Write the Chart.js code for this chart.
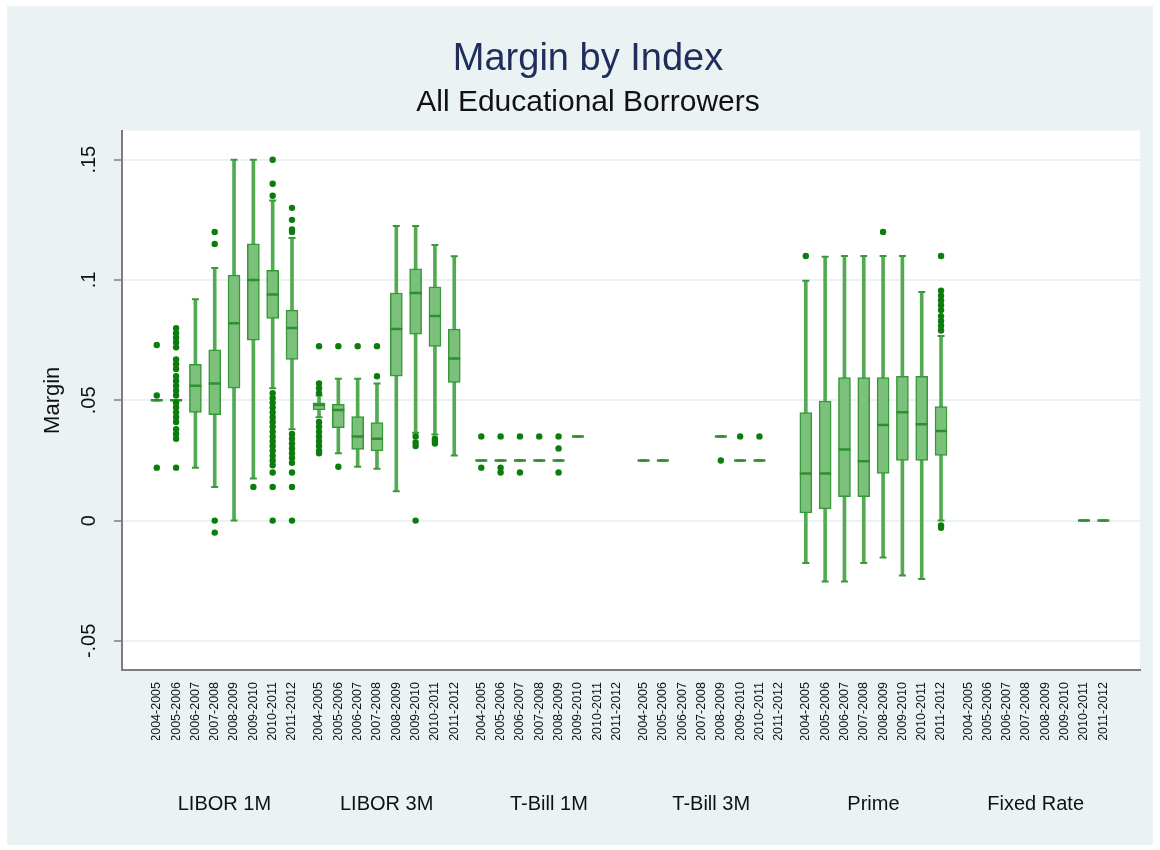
<!DOCTYPE html>
<html>
<head>
<meta charset="utf-8">
<title>Margin by Index</title>
<script src="https://cdn.jsdelivr.net/npm/chart.js@4.4.0/dist/chart.umd.min.js"></script>
<style>
    html, body { margin: 0; padding: 0; background: #ffffff; }
    #wrap { width: 1160px; height: 850px; }
</style>
</head>
<body>
<div id="wrap"><canvas id="margin-chart" width="1160" height="850"></canvas></div>
<script>
// *** DATA ***
var groups = ['LIBOR 1M', 'LIBOR 3M', 'T-Bill 1M', 'T-Bill 3M', 'Prime', 'Fixed Rate'];
var years = ['2004-2005', '2005-2006', '2006-2007', '2007-2008', '2008-2009', '2009-2010', '2010-2011', '2011-2012'];
var yTicks = [-0.05, 0, 0.05, 0.1, 0.15];

// one entry per group/year, in the order of groups then years (null = no loans)
var whiskerLow = [
    0.05, 0.05, 0.022, 0.014, 0.0, 0.0175, 0.055, 0.038,           // LIBOR 1M
    0.043, 0.028, 0.0224, 0.0215, 0.0122, 0.0365, 0.0358, 0.0271,  // LIBOR 3M
    0.025, 0.025, 0.025, 0.025, 0.025, 0.035, null, null,          // T-Bill 1M
    0.025, 0.025, null, null, 0.035, 0.025, 0.025, null,           // T-Bill 3M
    -0.0176, -0.0253, -0.0253, -0.0176, -0.0153, -0.0228, -0.0243, 0.0, // Prime
    null, null, null, null, null, null, 0.0, 0.0                   // Fixed Rate
];
var quartile1 = [
    0.05, 0.05, 0.045, 0.044, 0.055, 0.075, 0.084, 0.067,
    0.046, 0.0386, 0.0296, 0.029, 0.060, 0.0775, 0.0724, 0.0574,
    0.025, 0.025, 0.025, 0.025, 0.025, 0.035, null, null,
    0.025, 0.025, null, null, 0.035, 0.025, 0.025, null,
    0.0032, 0.0049, 0.0099, 0.0099, 0.0196, 0.025, 0.025, 0.0271,
    null, null, null, null, null, null, 0.0, 0.0
];
var medians = [
    0.05, 0.05, 0.056, 0.057, 0.082, 0.100, 0.094, 0.080,
    0.048, 0.046, 0.035, 0.034, 0.0796, 0.0946, 0.085, 0.0674,
    0.025, 0.025, 0.025, 0.025, 0.025, 0.035, null, null,
    0.025, 0.025, null, null, 0.035, 0.025, 0.025, null,
    0.0196, 0.0196, 0.0296, 0.0247, 0.0397, 0.045, 0.040, 0.0372,
    null, null, null, null, null, null, 0.0, 0.0
];
var quartile3 = [
    0.05, 0.05, 0.065, 0.071, 0.102, 0.115, 0.104, 0.0875,
    0.049, 0.0483, 0.0432, 0.0407, 0.0946, 0.1046, 0.0972, 0.0796,
    0.025, 0.025, 0.025, 0.025, 0.025, 0.035, null, null,
    0.025, 0.025, null, null, 0.035, 0.025, 0.025, null,
    0.0449, 0.0497, 0.0594, 0.0594, 0.0594, 0.060, 0.060, 0.0474,
    null, null, null, null, null, null, 0.0, 0.0
];
var whiskerHigh = [
    0.05, 0.05, 0.092, 0.105, 0.15, 0.15, 0.133, 0.1175,
    0.052, 0.059, 0.059, 0.057, 0.1224, 0.1224, 0.1146, 0.1099,
    0.025, 0.025, 0.025, 0.025, 0.025, 0.035, null, null,
    0.025, 0.025, null, null, 0.035, 0.025, 0.025, null,
    0.0997, 0.1097, 0.11, 0.11, 0.11, 0.11, 0.095, 0.0767,
    null, null, null, null, null, null, 0.0, 0.0
];
var outliers = [
    // LIBOR 1M
    [0.073, 0.052, 0.022],
    [0.080, 0.078, 0.076, 0.074, 0.072, 0.067, 0.065, 0.063, 0.060, 0.058, 0.056, 0.054, 0.052,
     0.049, 0.047, 0.045, 0.043, 0.041, 0.038, 0.036, 0.034, 0.022],
    [],
    [0.120, 0.115, 0.0, -0.005],
    [],
    [0.014],
    [0.15, 0.14, 0.135, 0.053, 0.051, 0.049, 0.047, 0.045, 0.043, 0.041, 0.039, 0.037, 0.035,
     0.033, 0.031, 0.029, 0.027, 0.025, 0.023, 0.020, 0.014, 0.0],
    [0.130, 0.125, 0.121, 0.120, 0.036, 0.034, 0.032, 0.030, 0.028, 0.026, 0.024, 0.020, 0.014, 0.0],
    // LIBOR 3M
    [0.0725, 0.057, 0.055, 0.053, 0.041, 0.039, 0.037, 0.035, 0.033, 0.031, 0.029, 0.028],
    [0.0725, 0.0224],
    [0.0725],
    [0.0725, 0.060],
    [],
    [0.035, 0.0325, 0.031, 0.0],
    [0.034, 0.033, 0.032],
    [],
    // T-Bill 1M
    [0.035, 0.022],
    [0.035, 0.022, 0.020],
    [0.035, 0.020],
    [0.035],
    [0.035, 0.030, 0.020],
    [], [], [],
    // T-Bill 3M
    [], [], [], [],
    [0.025],
    [0.035],
    [0.035],
    [],
    // Prime
    [0.11], [], [], [], [0.12], [], [],
    [0.11, 0.0956, 0.0935, 0.0915, 0.0895, 0.0875, 0.085, 0.083, 0.081, 0.079, -0.002, -0.003],
    // Fixed Rate
    [], [], [], [], [], [], [], []
];

// *** FUNCTIONS ***
var groupStride = years.length + 0.4; // small extra gap between index groups

function slotPosition(k) {
    return Math.floor(k / years.length) * groupStride + (k % years.length);
}

function rangeData(low, high) {
    var data = [];
    for (var k = 0; k < low.length; k++) {
        if (low[k] !== null && high[k] !== null) {
            data.push({ x: slotPosition(k), y: [low[k], high[k]] });
        }
    }
    return data;
}

function pointData(values) {
    var data = [];
    for (var k = 0; k < values.length; k++) {
        if (values[k] !== null) {
            data.push({ x: slotPosition(k), y: values[k] });
        }
    }
    return data;
}

function outlierData(list) {
    var data = [];
    for (var k = 0; k < list.length; k++) {
        for (var j = 0; j < list[k].length; j++) {
            data.push({ x: slotPosition(k), y: list[k][j] });
        }
    }
    return data;
}

function formatMargin(v) {
    if (v === 0) return '0';
    return String(parseFloat(v.toFixed(2))).replace('0.', '.');
}

var slotTicks = [];
for (var k = 0; k < groups.length * years.length; k++) {
    slotTicks.push(slotPosition(k));
}
var groupTicks = groups.map(function(g, i) {
    return i * groupStride + (years.length - 1) / 2;
});
var xMin = -1.8;
var xMax = slotTicks[slotTicks.length - 1] + 1.9;

var panelBackground = {
    id: 'panelBackground',
    beforeDraw: function(chart) {
        var ctx = chart.ctx;
        var area = chart.chartArea;
        ctx.save();
        ctx.fillStyle = '#ffffff';
        ctx.fillRect(0, 0, chart.width, chart.height);
        ctx.fillStyle = '#eaf2f3';
        ctx.fillRect(7, 6, chart.width - 14, chart.height - 11);
        ctx.fillStyle = '#ffffff';
        ctx.fillRect(area.left, area.top, area.right - area.left, area.bottom - area.top);
        ctx.restore();
    }
};

Chart.defaults.font.family = "'Liberation Sans', Arial, sans-serif";
Chart.defaults.color = '#111111';

new Chart(document.getElementById('margin-chart'), {
    type: 'bar',
    data: {
        datasets: [{
            type: 'scatter', // outside values
            data: outlierData(outliers),
            pointRadius: 3.2,
            pointBackgroundColor: '#0a7d0a',
            pointBorderWidth: 0,
            order: 0
        }, {
            type: 'scatter', // medians
            data: pointData(medians),
            pointStyle: 'line',
            pointRadius: 6,
            pointBorderColor: '#2e8f2e',
            pointBorderWidth: 2.5,
            order: 1
        }, {
            label: 'box',
            data: rangeData(quartile1, quartile3),
            backgroundColor: '#7bc17b',
            borderColor: '#369836',
            borderWidth: 1.5,
            borderSkipped: false,
            barThickness: 12,
            grouped: false,
            order: 2
        }, {
            type: 'scatter', // whisker caps
            data: pointData(whiskerLow).concat(pointData(whiskerHigh)),
            pointStyle: 'line',
            pointRadius: 3.5,
            pointBorderColor: '#3a9a3a',
            pointBorderWidth: 2,
            order: 3
        }, {
            label: 'whisker',
            data: rangeData(whiskerLow, whiskerHigh),
            backgroundColor: '#52ab52',
            borderWidth: 0,
            barThickness: 3,
            grouped: false,
            order: 4
        }]
    },
    options: {
        responsive: false,
        animation: false,
        layout: {
            padding: { left: 36, right: 20, top: 0, bottom: 38 }
        },
        plugins: {
            legend: { display: false },
            tooltip: { enabled: false },
            title: {
                display: true,
                text: 'Margin by Index',
                color: '#1f2d5c',
                font: { size: 38, weight: 'normal' },
                padding: { top: 37, bottom: 0 }
            },
            subtitle: {
                display: true,
                text: 'All Educational Borrowers',
                color: '#111111',
                font: { size: 30 },
                padding: { top: 2, bottom: 10 }
            }
        },
        scales: {
            x: {
                type: 'linear',
                position: 'bottom',
                min: xMin,
                max: xMax,
                offset: false,
                weight: 0,
                afterBuildTicks: function(scale) {
                    scale.ticks = slotTicks.map(function(v) { return { value: v }; });
                },
                afterFit: function(scale) {
                    scale.height = 70;
                },
                grid: { display: false, drawTicks: false },
                border: { display: true, color: '#7d7d7d', width: 2 },
                ticks: {
                    autoSkip: false,
                    minRotation: 90,
                    maxRotation: 90,
                    padding: 12,
                    font: { size: 12.5 },
                    callback: function(value, index) {
                        return years[index % years.length];
                    }
                }
            },
            xg: {
                type: 'linear',
                position: 'bottom',
                min: xMin,
                max: xMax,
                offset: false,
                weight: 1,
                afterBuildTicks: function(scale) {
                    scale.ticks = groupTicks.map(function(v) { return { value: v }; });
                },
                afterFit: function(scale) {
                    scale.height = 72;
                },
                grid: { display: false, drawTicks: false },
                border: { display: false },
                ticks: {
                    autoSkip: false,
                    maxRotation: 0,
                    padding: 52,
                    font: { size: 20 },
                    callback: function(value, index) {
                        return groups[index];
                    }
                }
            },
            y: {
                min: -0.0621,
                max: 0.1621,
                afterBuildTicks: function(scale) {
                    scale.ticks = yTicks.map(function(v) { return { value: v }; });
                },
                afterFit: function(scale) {
                    scale.width = 86;
                },
                grid: {
                    color: '#eaf2f3',
                    lineWidth: 2,
                    tickColor: '#7d7d7d',
                    tickLength: 8,
                    tickWidth: 1.5
                },
                border: { display: true, color: '#7d7d7d', width: 2 },
                title: {
                    display: true,
                    text: 'Margin',
                    font: { size: 22 },
                    padding: { top: 4, bottom: 4 }
                },
                ticks: {
                    minRotation: 90,
                    maxRotation: 90,
                    crossAlign: 'center',
                    padding: 7,
                    font: { size: 20 },
                    callback: function(value) {
                        return formatMargin(value);
                    }
                }
            }
        }
    },
    plugins: [panelBackground]
});
</script>
</body>
</html>
